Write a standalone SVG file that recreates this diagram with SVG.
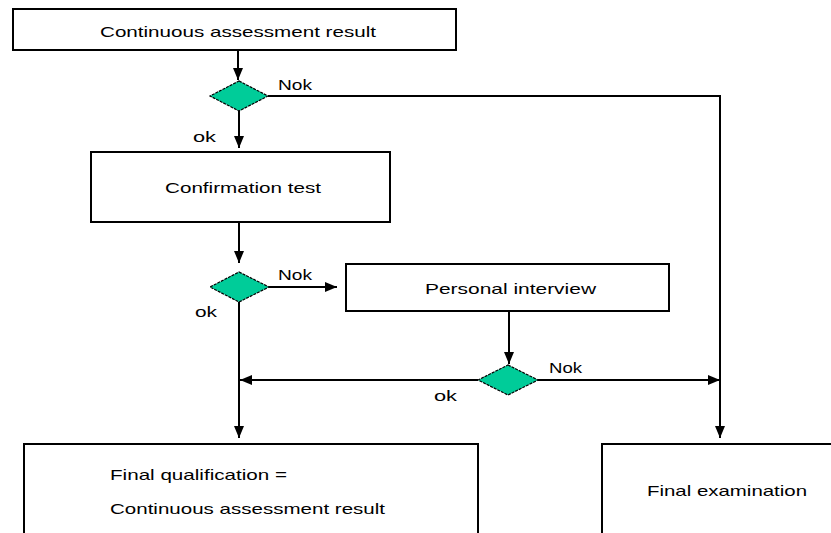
<svg xmlns="http://www.w3.org/2000/svg" width="831" height="533" viewBox="0 0 831 533">
<style>
.box{fill:#fff;stroke:#000;stroke-width:2}
.dia{fill:#00cc99;stroke:#000;stroke-width:1.2;stroke-dasharray:3 1}
.t{font-family:"Liberation Sans",Arial,sans-serif;font-size:15px;fill:#000}
.c{text-anchor:middle}
.con{fill:none;stroke:#000;stroke-width:2}
</style>
<defs>
<marker id="ah" viewBox="0 0 12 10" markerWidth="12" markerHeight="10" refX="12" refY="5" orient="auto" markerUnits="userSpaceOnUse">
<path d="M0,0 L12,5 L0,10 z" fill="#000"/>
</marker>
</defs>
<rect width="831" height="533" fill="#fff"/>
<g id="connectors">
<path class="con" d="M238,50 V80" marker-end="url(#ah)"/>
<path class="con" d="M268,96 H720 V438" marker-end="url(#ah)"/>
<path class="con" d="M239,111 V148" marker-end="url(#ah)"/>
<path class="con" d="M239,222 V263" marker-end="url(#ah)"/>
<path class="con" d="M269,287 H337" marker-end="url(#ah)"/>
<path class="con" d="M509,311 V364" marker-end="url(#ah)"/>
<path class="con" d="M478,380 H240" marker-end="url(#ah)"/>
<path class="con" d="M538,380 H720" marker-end="url(#ah)"/>
<path class="con" d="M239,302 V438" marker-end="url(#ah)"/>
<text class="t" x="278" y="90" textLength="34" lengthAdjust="spacingAndGlyphs">Nok</text>
<text class="t" x="193" y="142" textLength="23" lengthAdjust="spacingAndGlyphs">ok</text>
<text class="t" x="278" y="280" textLength="34" lengthAdjust="spacingAndGlyphs">Nok</text>
<text class="t" x="195" y="317" textLength="22" lengthAdjust="spacingAndGlyphs">ok</text>
<text class="t" x="549" y="373" textLength="33" lengthAdjust="spacingAndGlyphs">Nok</text>
<text class="t" x="434" y="401" textLength="23" lengthAdjust="spacingAndGlyphs">ok</text>
</g>
<g id="n1">
<rect class="box" x="13" y="9" width="443" height="41"/>
<text class="t" x="100" y="37" textLength="276" lengthAdjust="spacingAndGlyphs">Continuous assessment result</text>
</g>
<g id="d1"><polygon class="dia" points="239,81 268,96 239,111 210,96"/></g>
<g id="n2">
<rect class="box" x="91" y="152" width="299" height="70"/>
<text class="t" x="165" y="193" textLength="156" lengthAdjust="spacingAndGlyphs">Confirmation test</text>
</g>
<g id="d2"><polygon class="dia" points="239,272 269,287 239,302 210,287"/></g>
<g id="n3">
<rect class="box" x="346" y="264" width="323" height="47"/>
<text class="t" x="425" y="294" textLength="171" lengthAdjust="spacingAndGlyphs">Personal interview</text>
</g>
<g id="d3"><polygon class="dia" points="508,365 538,380 508,395 478,380"/></g>
<g id="n4">
<rect class="box" x="24" y="444" width="454" height="100"/>
<text class="t" x="110" y="480" textLength="177" lengthAdjust="spacingAndGlyphs">Final qualification =</text>
<text class="t" x="110" y="514" textLength="275" lengthAdjust="spacingAndGlyphs">Continuous assessment result</text>
</g>
<g id="n5">
<rect class="box" x="602" y="444" width="240" height="100"/>
<text class="t" x="647" y="496" textLength="160" lengthAdjust="spacingAndGlyphs">Final examination</text>
</g>
</svg>
